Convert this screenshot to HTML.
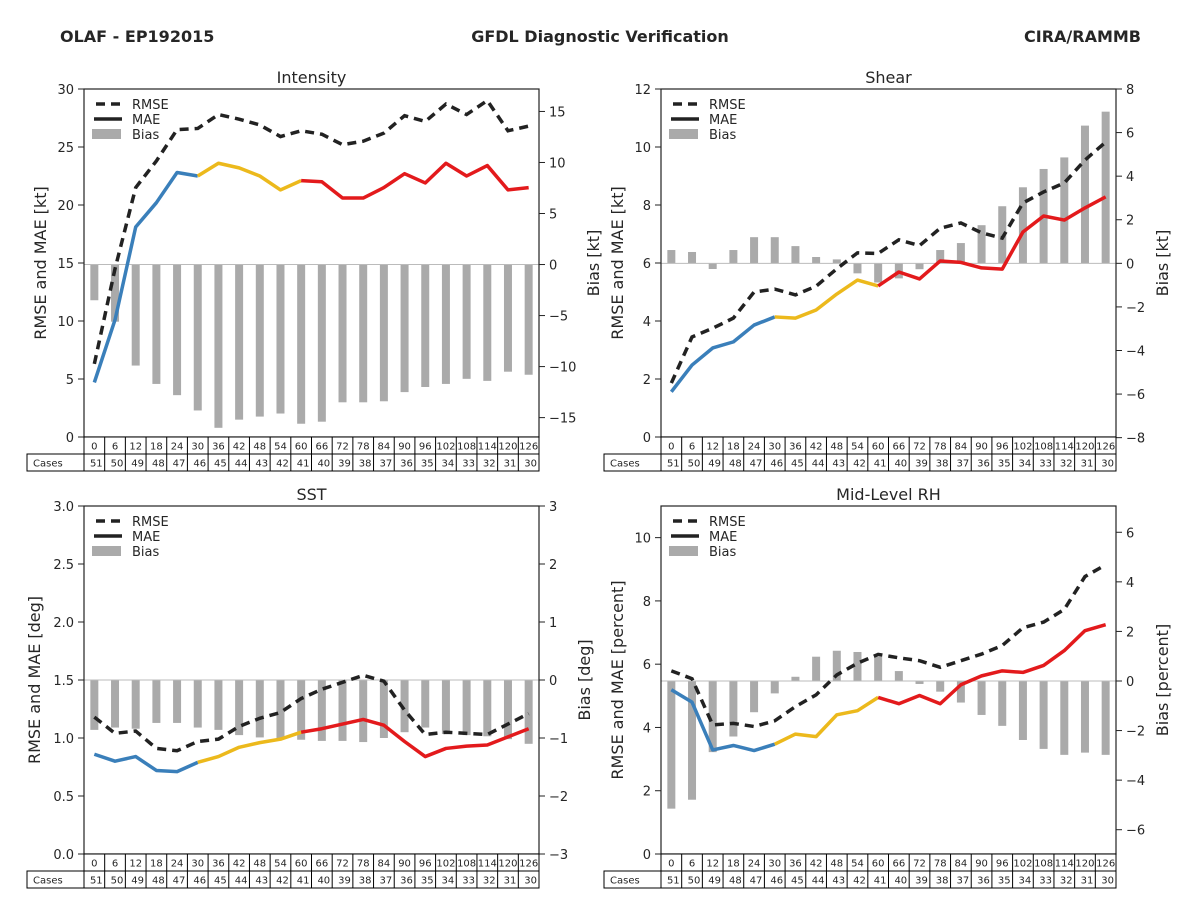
<!DOCTYPE html>
<html><head><meta charset="utf-8"><style>
html,body{margin:0;padding:0;background:#fff;}
svg{display:block;font-family:"DejaVu Sans","Liberation Sans",sans-serif;}
</style></head><body>
<svg id="fig" width="1200" height="900" viewBox="0 0 1200 900" xmlns="http://www.w3.org/2000/svg">
<rect width="1200" height="900" fill="#fff"/>
<text x="60" y="42" font-size="16" font-weight="bold" fill="#262626">OLAF - EP192015</text>
<text x="600" y="42" font-size="16" font-weight="bold" fill="#262626" text-anchor="middle">GFDL Diagnostic Verification</text>
<text x="1141" y="42" font-size="16" font-weight="bold" fill="#262626" text-anchor="end">CIRA/RAMMB</text>
</svg>
<script>
const leadTimes = [0,6,12,18,24,30,36,42,48,54,60,66,72,78,84,90,96,102,108,114,120,126];
const caseCounts = [51,50,49,48,47,46,45,44,43,42,41,40,39,38,37,36,35,34,33,32,31,30];

const intensityMAE = [4.7,10.1,18.1,20.2,22.8,22.5,23.6,23.2,22.5,21.3,22.1,22.0,20.6,20.6,21.5,22.7,21.9,23.6,22.5,23.4,21.3,21.5];
const intensityRMSE = [6.3,14.5,21.5,23.8,26.5,26.6,27.8,27.4,26.9,25.9,26.4,26.1,25.2,25.5,26.2,27.7,27.2,28.7,27.8,29.0,26.4,26.8];
const intensityBias = [-3.5,-5.6,-9.9,-11.7,-12.8,-14.3,-16.0,-15.2,-14.9,-14.6,-15.6,-15.4,-13.5,-13.5,-13.4,-12.5,-12.0,-11.7,-11.2,-11.4,-10.5,-10.8];
const intensityLeftTicks = [0,5,10,15,20,25,30];
const intensityRightTicks = [-15,-10,-5,0,5,10,15];

const shearMAE = [1.56,2.48,3.07,3.28,3.86,4.14,4.1,4.38,4.93,5.41,5.21,5.69,5.45,6.07,6.02,5.83,5.79,7.07,7.62,7.48,7.9,8.28];
const shearRMSE = [1.86,3.45,3.75,4.1,5.0,5.1,4.9,5.2,5.8,6.35,6.33,6.8,6.6,7.2,7.38,7.04,6.86,8.07,8.45,8.76,9.55,10.17];
const shearBias = [0.61,0.52,-0.26,0.61,1.2,1.2,0.79,0.29,0.18,-0.46,-0.88,-0.69,-0.27,0.61,0.93,1.75,2.62,3.49,4.33,4.86,6.32,6.96];
const shearLeftTicks = [0,2,4,6,8,10,12];
const shearRightTicks = [-8,-6,-4,-2,0,2,4,6,8];

const sstMAE = [0.86,0.80,0.84,0.72,0.71,0.79,0.84,0.92,0.96,0.99,1.05,1.08,1.12,1.16,1.11,0.97,0.84,0.91,0.93,0.94,1.01,1.08];
const sstRMSE = [1.18,1.04,1.06,0.91,0.89,0.97,0.99,1.10,1.17,1.22,1.34,1.42,1.48,1.54,1.49,1.24,1.03,1.05,1.04,1.03,1.12,1.21];
const sstBias = [-0.86,-0.82,-0.84,-0.74,-0.74,-0.82,-0.86,-0.95,-0.99,-1.0,-1.03,-1.05,-1.05,-1.07,-1.0,-0.9,-0.82,-0.93,-0.95,-0.97,-1.02,-1.1];
const sstLeftTicks = [0,0.5,1,1.5,2,2.5,3];
const sstLeftLabels = ["0.0","0.5","1.0","1.5","2.0","2.5","3.0"];
const sstRightTicks = [-3,-2,-1,0,1,2,3];

const rhMAE = [5.19,4.80,3.29,3.43,3.27,3.47,3.79,3.71,4.40,4.53,4.95,4.75,5.01,4.75,5.35,5.63,5.79,5.74,5.96,6.43,7.06,7.25];
const rhRMSE = [5.79,5.54,4.08,4.13,4.03,4.21,4.66,5.03,5.66,6.03,6.31,6.20,6.11,5.90,6.11,6.32,6.59,7.15,7.33,7.73,8.77,9.14];
const rhBias = [-5.15,-4.79,-2.87,-2.24,-1.26,-0.5,0.17,0.98,1.22,1.17,0.98,0.4,-0.12,-0.43,-0.87,-1.37,-1.81,-2.38,-2.74,-2.98,-2.89,-2.98];
const rhLeftTicks = [0,2,4,6,8,10];
const rhRightTicks = [-6,-4,-2,0,2,4,6];

const NS = "http://www.w3.org/2000/svg";
const fig = document.getElementById('fig');
function mk(tag, attrs, parent){
  const e = document.createElementNS(NS, tag);
  for (const k in attrs) e.setAttribute(k, attrs[k]);
  (parent||fig).appendChild(e);
  return e;
}
function txt(s, attrs, parent){ const e = mk('text', attrs, parent); e.textContent = s; return e; }

function panel(cfg){
  const g = mk('g', {});
  
  
  const {x0,x1,y0,y1} = cfg;
  const n = leadTimes.length;
  const cw = (x1-x0)/n;
  const xs = i => x0 + cw*(i+0.5);
  const yl = v => y1 - (v-cfg.lmin)/(cfg.lmax-cfg.lmin)*(y1-y0);
  const yr = v => y1 - (v-cfg.rmin)/(cfg.rmax-cfg.rmin)*(y1-y0);
  // bias bars
  const z = yr(0);
  cfg.bias.forEach((v,i)=>{
    const y = yr(v);
    const b = mk('rect', {x: xs(i)-4, y: Math.min(y,z), width: 8, height: Math.abs(y-z), fill:'#aaaaaa'}, g);
    
    
  });
  const zl = mk('line', {x1:x0, x2:x1, y1:z, y2:z, stroke:'#bbbbbb', 'stroke-width':1}, g);
  
  
  // MAE segments
  const segs = [[0,5,'#3a7fba'],[5,10,'#ecb91c'],[10,n-1,'#e31a1c']];
  segs.forEach(([a,b,c])=>{
    let pts = [];
    for (let i=a;i<=b;i++) pts.push(xs(i)+','+yl(cfg.mae[i]));
    const p = mk('polyline', {points: pts.join(' '), fill:'none', stroke:c, 'stroke-width':3.5, 'stroke-linejoin':'round'}, g);
    
    
  });
  // RMSE
  const rp = cfg.rmse.map((v,i)=>xs(i)+','+yl(v)).join(' ');
  const rl = mk('polyline', {points: rp, fill:'none', stroke:'#222', 'stroke-width':3.5, 'stroke-dasharray':'9,6'}, g);
  
  
  // frame
  const fr = mk('rect', {x:x0, y:y0, width:x1-x0, height:y1-y0, fill:'none', stroke:'#222', 'stroke-width':1.2}, g);
  
  
  // left ticks
  cfg.lticks.forEach((t,i)=>{
    const y = yl(t);
    mk('line', {x1:x0-6, x2:x0, y1:y, y2:y, stroke:'#222'}, g);
    const l = txt(cfg.llabels ? cfg.llabels[i] : String(t), {x:x0-10, y:y+5, 'font-size':13, 'text-anchor':'end', fill:'#262626'}, g);
    
    
  });
  cfg.rticks.forEach(t=>{
    const y = yr(t);
    mk('line', {x1:x1, x2:x1+6, y1:y, y2:y, stroke:'#222'}, g);
    const l = txt(String(t).replace('-','\u2212'), {x:x1+10, y:y+5, 'font-size':13, 'text-anchor':'start', fill:'#262626'}, g);
    
    
  });
  // titles
  const t = txt(cfg.title, {x:(x0+x1)/2, y:y0-6, 'font-size':16, 'text-anchor':'middle', fill:'#262626'}, g);
  
  
  const lx = cfg.lLabelX, cy = (y0+y1)/2;
  const la = txt(cfg.lLabel, {x:lx, y:cy, 'font-size':16, 'text-anchor':'middle', fill:'#262626', transform:`rotate(-90 ${lx} ${cy})`}, g);
  
  
  const rx = cfg.rLabelX;
  const ra = txt(cfg.rLabel, {x:rx, y:cy, 'font-size':16, 'text-anchor':'middle', fill:'#262626', transform:`rotate(-90 ${rx} ${cy})`}, g);
  
  
  // legend
  const lg = mk('g', {}, g);
  
  
  const ly = y0 + 15;
  mk('line', {x1:x0+12, x2:x0+38, y1:ly, y2:ly, stroke:'#222', 'stroke-width':3.5, 'stroke-dasharray':'9,6'}, lg);
  txt('RMSE', {x:x0+48, y:ly+5, 'font-size':13, fill:'#262626'}, lg);
  mk('line', {x1:x0+10, x2:x0+38, y1:ly+15, y2:ly+15, stroke:'#222', 'stroke-width':3.5}, lg);
  txt('MAE', {x:x0+48, y:ly+20, 'font-size':13, fill:'#262626'}, lg);
  mk('rect', {x:x0+8, y:ly+25, width:29, height:10, fill:'#aaaaaa'}, lg);
  txt('Bias', {x:x0+48, y:ly+35, 'font-size':13, fill:'#262626'}, lg);
  // table
  const tb = mk('g', {}, g);
  
  
  const r1 = y1, r2 = y1+17, r3 = y1+34;
  mk('rect', {x:x0, y:r1, width:x1-x0, height:17, fill:'#fff', stroke:'#000', 'stroke-width':1}, tb);
  mk('rect', {x:x0-57, y:r2, width:x1-x0+57, height:17, fill:'#fff', stroke:'#000', 'stroke-width':1}, tb);
  txt('Cases', {x:x0-51, y:r2+12.5, 'font-size':10, fill:'#262626'}, tb);
  for (let i=0;i<n;i++){
    const cx = x0 + cw*i;
    if (i>0) { mk('line', {x1:cx, x2:cx, y1:r1, y2:r3, stroke:'#000'}, tb); }
    txt(String(leadTimes[i]), {x:cx+cw/2, y:r1+12.5, 'font-size':10, 'text-anchor':'middle', fill:'#262626'}, tb);
    txt(String(caseCounts[i]), {x:cx+cw-2, y:r2+12.5, 'font-size':10, 'text-anchor':'end', fill:'#262626'}, tb);
  }
  mk('line', {x1:x0, x2:x0, y1:r1, y2:r3, stroke:'#000'}, tb);
}

panel({name:'intensity', title:'Intensity', x0:84, x1:539, y0:89, y1:437, lmin:0, lmax:30, rmin:-16.9, rmax:17.2,
  mae:intensityMAE, rmse:intensityRMSE, bias:intensityBias, lticks:intensityLeftTicks, rticks:intensityRightTicks,
  lLabel:'RMSE and MAE [kt]', rLabel:'Bias [kt]', lLabelX:46, rLabelX:599});
panel({name:'shear', title:'Shear', x0:661, x1:1116, y0:89, y1:437, lmin:0, lmax:12, rmin:-7.97, rmax:8.0,
  mae:shearMAE, rmse:shearRMSE, bias:shearBias, lticks:shearLeftTicks, rticks:shearRightTicks,
  lLabel:'RMSE and MAE [kt]', rLabel:'Bias [kt]', lLabelX:623, rLabelX:1168});
panel({name:'sst', title:'SST', x0:84, x1:539, y0:506, y1:854, lmin:0, lmax:3, rmin:-3, rmax:3,
  mae:sstMAE, rmse:sstRMSE, bias:sstBias, lticks:sstLeftTicks, llabels:sstLeftLabels, rticks:sstRightTicks,
  lLabel:'RMSE and MAE [deg]', rLabel:'Bias [deg]', lLabelX:40, rLabelX:590});
panel({name:'mid-level-rh', title:'Mid-Level RH', x0:661, x1:1116, y0:506, y1:854, lmin:0, lmax:11, rmin:-6.98, rmax:7.06,
  mae:rhMAE, rmse:rhRMSE, bias:rhBias, lticks:rhLeftTicks, rticks:rhRightTicks,
  lLabel:'RMSE and MAE [percent]', rLabel:'Bias [percent]', lLabelX:623, rLabelX:1168});
</script>
</body></html>
